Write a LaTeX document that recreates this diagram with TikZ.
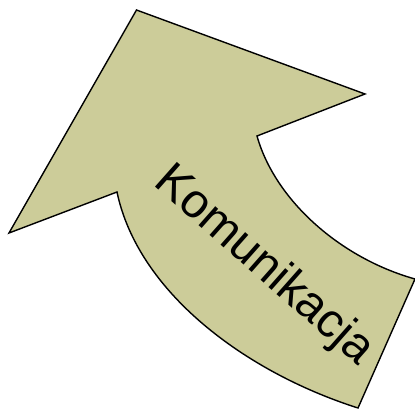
\documentclass[tikz,border=0pt]{standalone}
\usepackage{fontspec}
\setmainfont{Liberation Sans}
\definecolor{arrowfill}{RGB}{204,204,153}
\begin{document}
\begin{tikzpicture}[x=1pt,y=-1pt,
  arrowshape/.style={draw=black,line width=1.4pt,fill=arrowfill,line join=miter},
  label/.style={font=\fontsize{48}{52}\selectfont,text=black,inner sep=0pt}]
\useasboundingbox (0,0) rectangle (415,411);
\coordinate (tip) at (136.5,10);
\coordinate (rb) at (365,94);
\coordinate (rn) at (257,136);
\coordinate (re) at (415,279);
\coordinate (be) at (358,408);
\coordinate (ln) at (117,192);
\coordinate (lb) at (9,233);
\draw[arrowshape] (tip) -- (rb) -- (rn)
  .. controls (275,200) and (340,258) .. (re)
  -- (be)
  .. controls (245,372) and (138,292) .. (ln)
  -- (lb) -- cycle;
\node[label,rotate=-41.5] (txt) at (264,266) {Komunikacja};
\end{tikzpicture}
\end{document}
